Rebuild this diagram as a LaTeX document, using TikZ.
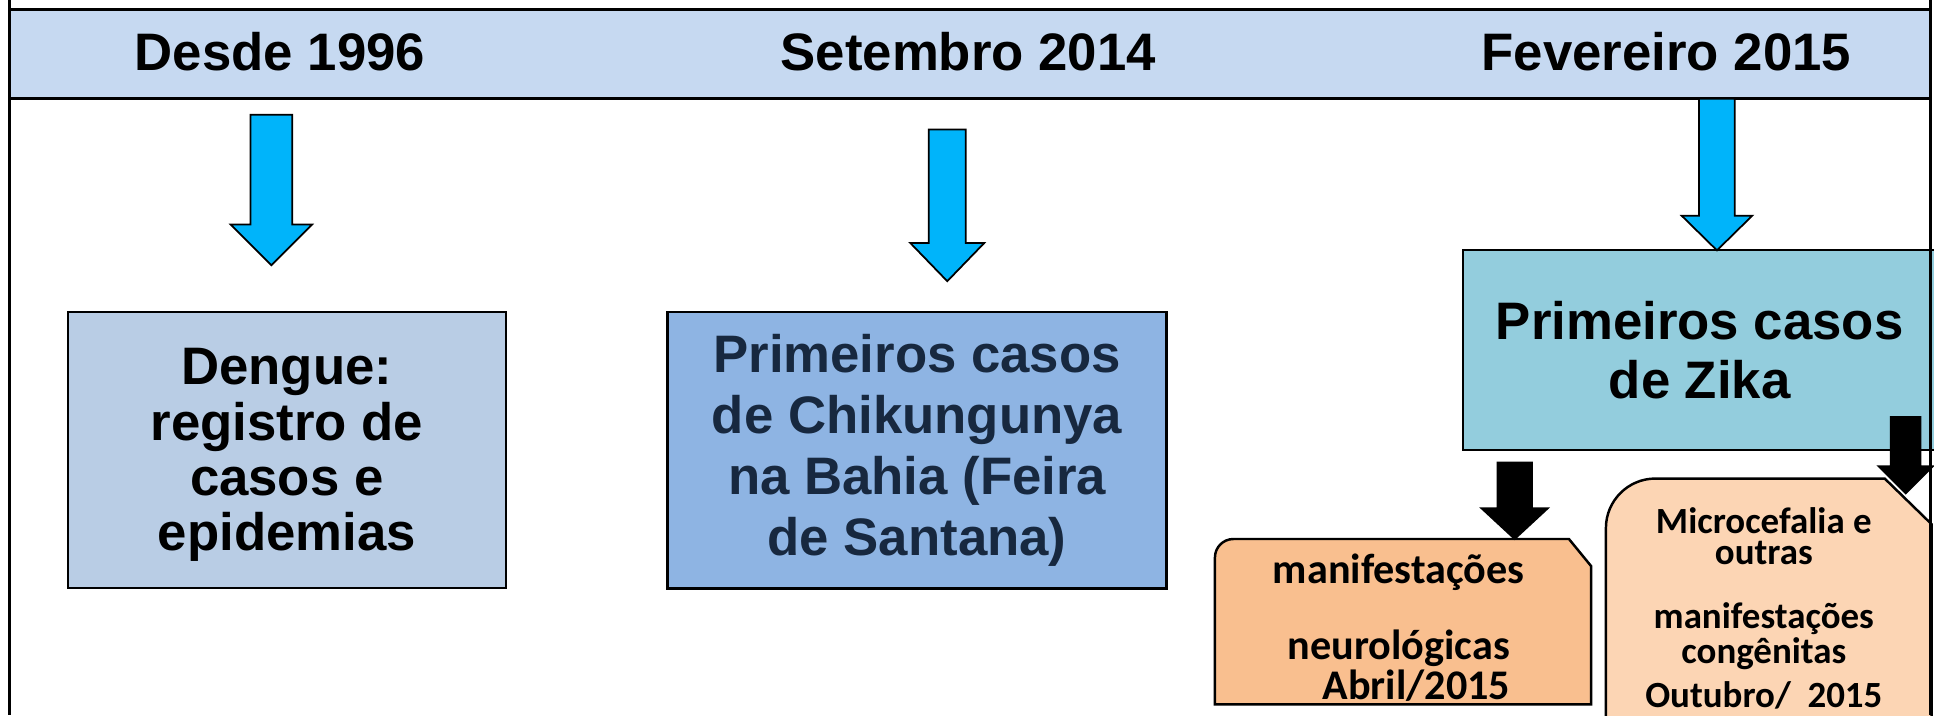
\documentclass[tikz,border=0pt]{standalone}
\usepackage{fontspec}
\setmainfont{Liberation Sans}
\newfontfamily\calibri{Carlito}
\usetikzlibrary{positioning}

\definecolor{bandblue}{HTML}{C6D9F1}
\definecolor{dengueblue}{HTML}{B9CDE5}
\definecolor{chikblue}{HTML}{8EB4E3}
\definecolor{chiktext}{HTML}{17283F}
\definecolor{zikablue}{HTML}{93CDDD}
\definecolor{arrowblue}{HTML}{00B4FA}
\definecolor{neuroorange}{HTML}{F9BF8F}
\definecolor{microorange}{HTML}{FCD5B4}

\newcommand{\pxu}{0.012334cm}
% block arrow pointing down: style, x, top, tip, half shaft, half head, head length
\newcommand{\downblk}[7]{%
  \draw[#1] (#2-#5,#3) -- (#2+#5,#3) -- (#2+#5,#4-#7) -- (#2+#6,#4-#7)
    -- (#2,#4) -- (#2-#6,#4-#7) -- (#2-#5,#4-#7) -- cycle;}

\begin{document}
\begin{tikzpicture}[x=\pxu,y=-\pxu,
    frame/.style={line width=0.9pt},
    year/.style={font=\fontsize{15}{18}\selectfont\bfseries},
    event/.style={draw,line width=0.6pt,align=center,inner sep=0pt},
    blue arrow/.style={fill=arrowblue,draw=black,line width=0.5pt},
    black arrow/.style={fill=black,draw=black,line width=0.5pt},
    later/.style={draw,line width=0.7pt}]

\useasboundingbox (0,0) rectangle (1568,580);

% date band
\draw[frame,fill=bandblue] (8,8) rectangle (1565,80);
\node[year] (y1996) at (227,42) {Desde 1996};
\node[year] (y2014) at (785,42) {Setembro 2014};
\node[year] (y2015) at (1351,42) {Fevereiro 2015};

% events
\draw[line width=0.6pt,fill=dengueblue] (55,253) rectangle (410,477);
\node[align=center,inner sep=0pt,font=\fontsize{15}{15.7}\selectfont\bfseries] (dengue) at (232.5,369)
  {Dengue:\\registro de\\casos e\\epidemias};
\node[event,fill=chikblue,line width=0.8pt,minimum width=405*\pxu,minimum height=224*\pxu,
  text=chiktext,font=\fontsize{15}{17.3}\selectfont\bfseries] (chik) at (743.5,365)
  {Primeiros casos\\de Chikungunya\\na Bahia (Feira\\de Santana)};
\node[event,fill=zikablue,minimum width=384*\pxu,minimum height=162*\pxu,
  font=\fontsize{15}{16.8}\selectfont\bfseries] (zika) at (1378,284)
  {Primeiros casos\\de Zika};

\downblk{blue arrow}{220}{93}{215}{17}{33}{33}
\downblk{blue arrow}{768}{105}{228}{15}{30}{31}
\downblk{blue arrow}{1392}{80}{203}{14.5}{28.5}{28}

% later findings
\filldraw[later,fill=neuroorange] (985,571) -- (985,452)
  .. controls (985,443.7) and (991.7,437) .. (1000,437)
  -- (1272,437) -- (1290,459) -- (1290,571) -- cycle;
\node[font=\calibri\fontsize{12}{10.2}\selectfont\bfseries,align=center] (neuro) at (1134,509)
  {manifestações\\[10.2pt]neurológicas\\\hspace*{10pt}Abril/2015};

\filldraw[later,fill=microorange] (1302,590) -- (1302,428)
  .. controls (1302,406) and (1320,388) .. (1342,388)
  -- (1528,388) -- (1566,425) -- (1566,590) -- cycle;
\node[font=\calibri\fontsize{10.5}{9}\selectfont\bfseries,align=center] (micro) at (1430,493)
  {Microcefalia e\\outras\\[9pt]manifestações\\congênitas\\[2.2pt]Outubro/\ \ 2015};

\downblk{black arrow}{1228}{375}{437}{14}{27}{25}
\downblk{black arrow}{1545}{338}{400}{12}{22}{22}

% outer frame
\draw[frame] (8,0) -- (8,580);
\draw[frame] (1565,0) -- (1565,580);
\end{tikzpicture}
\end{document}
